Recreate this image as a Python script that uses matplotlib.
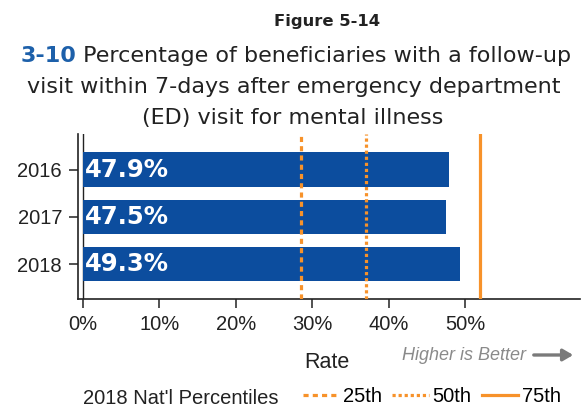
import matplotlib.pyplot as plt
from matplotlib.lines import Line2D
from matplotlib.patches import FancyArrowPatch

years = ["2016", "2017", "2018"]
rates = [47.9, 47.5, 49.3]
pct_names = ["25th", "50th", "75th"]
pct_values = [28.6, 37.0, 51.9]
xticks = [0, 10, 20, 30, 40, 50]

BLUE = "#0c4d9e"
ORANGE = "#f7922a"
DARK = "#222222"
pct_styles = [(0, (1.6, 1.3)), (0, (1.0, 0.9)), "-"]

W, H = 581, 409
fig = plt.figure(figsize=(W / 100, H / 100), dpi=100)
ax = fig.add_axes([78 / W, 1 - 299 / H, 502 / W, 165 / H])

ypos = list(range(len(years)))
ax.barh(ypos, rates, height=0.72, color=BLUE, zorder=2)
for y, r in zip(ypos, rates):
    ax.text(0.3, y, f"{r:.1f}%", color="white", fontsize=17.5, fontweight="bold",
            family="DejaVu Sans", va="center", ha="left", zorder=4)

for v, ls in zip(pct_values, pct_styles):
    ax.axvline(v, color=ORANGE, lw=2.3, linestyle=ls, zorder=3)
ax.axvline(0, color=DARK, lw=1.0, zorder=1)

ax.set_ylim(len(years) - 1 + 0.73, -0.75)
ax.set_xlim(-0.61, 65.0)
ax.set_yticks(ypos)
ax.set_yticklabels(years, family="Liberation Sans", fontsize=14.5, color=DARK)
ax.set_xticks(xticks)
ax.set_xticklabels([f"{t}%" for t in xticks], family="Liberation Sans", fontsize=14.5, color=DARK)
ax.tick_params(axis="both", length=6.5, width=1.1, color=DARK, pad=5)
for s in ["top", "right"]:
    ax.spines[s].set_visible(False)
for s in ["left", "bottom"]:
    ax.spines[s].set_linewidth(1.2)
    ax.spines[s].set_color(DARK)

# titles
fig.text(327 / W, 1 - 26 / H, "Figure 5-14", ha="center", va="baseline", fontsize=11.8,
         fontweight="bold", family="DejaVu Sans", color=DARK)
t1 = fig.text(0, 1 - 62 / H, "3-10", ha="left", va="baseline", fontsize=16,
              fontweight="bold", family="DejaVu Sans", color="#1d60aa")
t2 = fig.text(0, 1 - 62 / H, " Percentage of beneficiaries with a follow-up", ha="left",
              va="baseline", fontsize=16, family="DejaVu Sans", color=DARK)
r = fig.canvas.get_renderer()
w1 = t1.get_window_extent(r).width
w2 = t2.get_window_extent(r).width
x0 = 296 - (w1 + w2) / 2
t1.set_x(x0 / W)
t2.set_x((x0 + w1) / W)
fig.text(294 / W, 1 - 93 / H, "visit within 7-days after emergency department", ha="center",
         va="baseline", fontsize=16, family="DejaVu Sans", color=DARK)
fig.text(293 / W, 1 - 124 / H, "(ED) visit for mental illness", ha="center",
         va="baseline", fontsize=16, family="DejaVu Sans", color=DARK)

fig.text(327 / W, 1 - 363 / H, "Rate", ha="center", va="center", fontsize=15.5,
         family="Liberation Sans", color=DARK)
fig.text(402 / W, 1 - 355 / H, "Higher is Better", ha="left", va="center", fontsize=13,
         style="italic", family="Liberation Sans", color="#8a8a8a")
fig.patches.append(FancyArrowPatch(
    (531 / W, 1 - 355 / H), (576 / W, 1 - 355 / H), transform=fig.transFigure,
    arrowstyle="-|>,head_length=6,head_width=3.5", color="#7a7a7a", lw=2.4,
    mutation_scale=1))

fig.text(83 / W, 1 - 398 / H, "2018 Nat'l Percentiles", ha="left", va="center", fontsize=14.5,
         family="Liberation Sans", color=DARK)
handles = [Line2D([], [], color=ORANGE, lw=2.3, linestyle=ls) for ls in pct_styles]
fig.legend(handles, pct_names, loc="center left", bbox_to_anchor=(303 / W, 1 - 397 / H),
           ncol=3, frameon=False, handlelength=1.8, handletextpad=0.2, columnspacing=0.5,
           borderpad=0, borderaxespad=0, prop={"family": "Liberation Sans", "size": 14.5})

fig.savefig("out.png", dpi=100)
